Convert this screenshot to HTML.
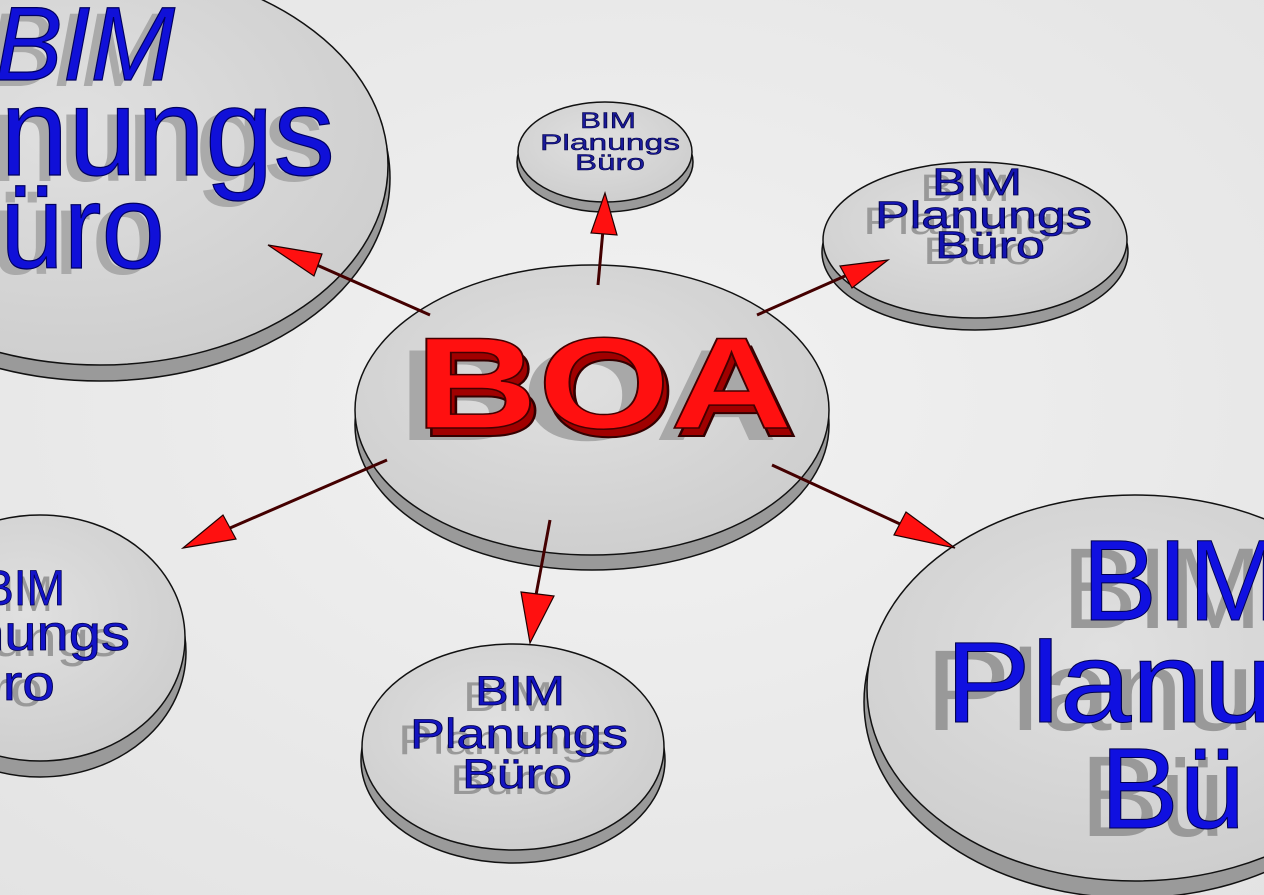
<!DOCTYPE html>
<html><head><style>
html,body{margin:0;padding:0;width:1264px;height:895px;overflow:hidden;background:#ececec}
svg{display:block}
text{font-family:"Liberation Sans",sans-serif;}
</style></head><body>
<svg width="1264" height="895" viewBox="0 0 1264 895" xmlns="http://www.w3.org/2000/svg">
<defs>
<radialGradient id="bg" cx="50%" cy="45%" r="75%">
<stop offset="0" stop-color="#f2f2f2"/><stop offset="1" stop-color="#e3e3e3"/>
</radialGradient>
<radialGradient id="disc" cx="45%" cy="40%" r="65%">
<stop offset="0" stop-color="#e0e0e0"/><stop offset="1" stop-color="#cdcdcd"/>
</radialGradient>
</defs>
<rect width="1264" height="895" fill="url(#bg)"/>

<g stroke="#111" stroke-width="1.5">
<ellipse cx="100" cy="178" rx="290" ry="203" fill="#9a9a9a"/>
<ellipse cx="100" cy="165" rx="288" ry="200" fill="url(#disc)"/>
<ellipse cx="605" cy="162" rx="88" ry="50" fill="#9a9a9a"/>
<ellipse cx="605" cy="152" rx="87" ry="50" fill="url(#disc)"/>
<ellipse cx="975" cy="252" rx="153" ry="78" fill="#9a9a9a"/>
<ellipse cx="975" cy="240" rx="152" ry="78" fill="url(#disc)"/>
<ellipse cx="40" cy="652" rx="146" ry="125" fill="#9a9a9a"/>
<ellipse cx="40" cy="638" rx="145" ry="123" fill="url(#disc)"/>
<ellipse cx="513" cy="760" rx="152" ry="103" fill="#9a9a9a"/>
<ellipse cx="513" cy="747" rx="151" ry="103" fill="url(#disc)"/>
<ellipse cx="1132" cy="702" rx="268" ry="196" fill="#9a9a9a"/>
<ellipse cx="1135" cy="688" rx="268" ry="193" fill="url(#disc)"/>
<ellipse cx="592" cy="425" rx="237" ry="145" fill="#9a9a9a"/>
<ellipse cx="592" cy="410" rx="237" ry="145" fill="url(#disc)"/>
</g>

<g fill="#aaa" transform="translate(-10,6)">
<text x="-5" y="80" font-size="105" font-style="italic" textLength="180" lengthAdjust="spacingAndGlyphs">BIM</text>
<text x="0" y="175" font-size="125" textLength="335" lengthAdjust="spacingAndGlyphs">nungs</text>
<text x="0" y="268" font-size="120" textLength="165" lengthAdjust="spacingAndGlyphs">üro</text>
</g>
<g fill="#1010d8" stroke="#000060" stroke-width="1.2">
<text x="-5" y="80" font-size="105" font-style="italic" textLength="180" lengthAdjust="spacingAndGlyphs">BIM</text>
<text x="0" y="175" font-size="125" textLength="335" lengthAdjust="spacingAndGlyphs">nungs</text>
<text x="0" y="268" font-size="120" textLength="165" lengthAdjust="spacingAndGlyphs">üro</text>
</g>

<g fill="#1a1a9a" stroke="#000040" stroke-width="0.5" font-size="22">
<text x="580" y="128" textLength="56" lengthAdjust="spacingAndGlyphs">BIM</text>
<text x="540" y="150" textLength="140" lengthAdjust="spacingAndGlyphs">Planungs</text>
<text x="575" y="170" textLength="70" lengthAdjust="spacingAndGlyphs">Büro</text>
</g>

<g fill="#999" font-size="38" transform="translate(-12,6)">
<text x="932" y="195" textLength="90" lengthAdjust="spacingAndGlyphs">BIM</text>
<text x="875" y="228" textLength="217" lengthAdjust="spacingAndGlyphs">Planungs</text>
<text x="935" y="258" textLength="110" lengthAdjust="spacingAndGlyphs">Büro</text>
</g>
<g fill="#1414b0" stroke="#000050" stroke-width="0.8" font-size="38">
<text x="932" y="195" textLength="90" lengthAdjust="spacingAndGlyphs">BIM</text>
<text x="875" y="228" textLength="217" lengthAdjust="spacingAndGlyphs">Planungs</text>
<text x="935" y="258" textLength="110" lengthAdjust="spacingAndGlyphs">Büro</text>
</g>

<g fill="#999" font-size="50" transform="translate(-12,6)">
<text x="-17" y="605" textLength="82" lengthAdjust="spacingAndGlyphs">BIM</text>
<text x="-28" y="650" textLength="158" lengthAdjust="spacingAndGlyphs">nungs</text>
<text x="-30" y="700" textLength="85" lengthAdjust="spacingAndGlyphs">üro</text>
</g>
<g fill="#1414c8" stroke="#000050" stroke-width="0.8" font-size="50">
<text x="-17" y="605" textLength="82" lengthAdjust="spacingAndGlyphs">BIM</text>
<text x="-28" y="650" textLength="158" lengthAdjust="spacingAndGlyphs">nungs</text>
<text x="-30" y="700" textLength="85" lengthAdjust="spacingAndGlyphs">üro</text>
</g>

<g fill="#999" font-size="42" transform="translate(-12,6)">
<text x="475" y="705" textLength="90" lengthAdjust="spacingAndGlyphs">BIM</text>
<text x="410" y="748" textLength="218" lengthAdjust="spacingAndGlyphs">Planungs</text>
<text x="462" y="788" textLength="110" lengthAdjust="spacingAndGlyphs">Büro</text>
</g>
<g fill="#1414c0" stroke="#000050" stroke-width="0.8" font-size="42">
<text x="475" y="705" textLength="90" lengthAdjust="spacingAndGlyphs">BIM</text>
<text x="410" y="748" textLength="218" lengthAdjust="spacingAndGlyphs">Planungs</text>
<text x="462" y="788" textLength="110" lengthAdjust="spacingAndGlyphs">Büro</text>
</g>

<g fill="#999" font-size="115" transform="translate(-20,8)">
<text x="1082" y="620" textLength="200" lengthAdjust="spacingAndGlyphs">BIM</text>
<text x="945" y="722" textLength="330" lengthAdjust="spacingAndGlyphs">Planu</text>
<text x="1100" y="828" textLength="145" lengthAdjust="spacingAndGlyphs">Bü</text>
</g>
<g fill="#1010e0" stroke="#000050" stroke-width="1" font-size="115">
<text x="1082" y="620" textLength="200" lengthAdjust="spacingAndGlyphs">BIM</text>
<text x="945" y="722" textLength="330" lengthAdjust="spacingAndGlyphs">Planu</text>
<text x="1100" y="828" textLength="145" lengthAdjust="spacingAndGlyphs">Bü</text>
</g>

<g font-size="130" font-weight="bold">
<text x="398" y="440" fill="#a8a8a8" textLength="380" lengthAdjust="spacingAndGlyphs">BOA</text>
<text x="420" y="436" fill="#a00000" stroke="#300" stroke-width="2" textLength="378" lengthAdjust="spacingAndGlyphs">BOA</text>
<text x="415" y="428" fill="#ff1010" stroke="#400" stroke-width="1.5" textLength="378" lengthAdjust="spacingAndGlyphs">BOA</text>
</g>

<g stroke="#200" stroke-width="1.2" fill="#ff1010">
<line x1="430" y1="315" x2="310" y2="262" stroke="#400" stroke-width="3"/>
<polygon points="268,245 322,254 314,276"/>
<line x1="598" y1="285" x2="603" y2="230" stroke="#400" stroke-width="3"/>
<polygon points="605,193 617,235 591,233"/>
<line x1="757" y1="315" x2="845" y2="276" stroke="#400" stroke-width="3"/>
<polygon points="888,260 852,288 840,266"/>
<line x1="387" y1="460" x2="230" y2="528" stroke="#400" stroke-width="3"/>
<polygon points="183,548 223,515 236,539"/>
<line x1="550" y1="520" x2="536" y2="595" stroke="#400" stroke-width="3"/>
<polygon points="530,643 521,592 554,596"/>
<line x1="772" y1="465" x2="900" y2="524" stroke="#400" stroke-width="3"/>
<polygon points="955,548 894,535 906,512"/>
</g>
</svg>
</body></html>
